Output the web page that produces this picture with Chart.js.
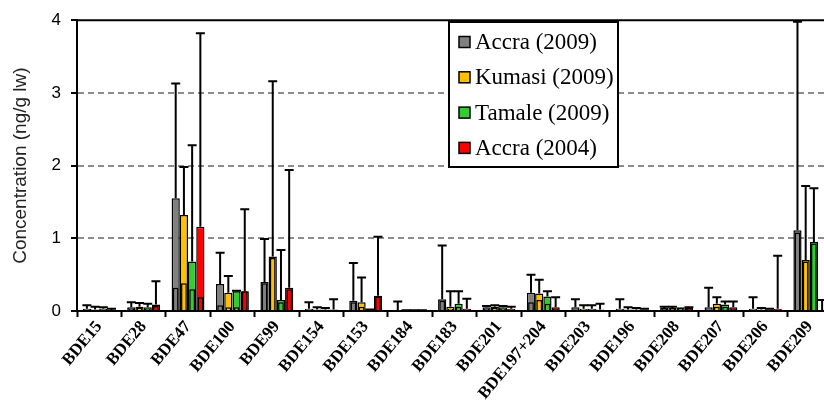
<!DOCTYPE html>
<html>
<head>
<meta charset="utf-8">
<script src="https://cdn.jsdelivr.net/npm/chart.js@4.4.1/dist/chart.umd.min.js"></script>
<style>
html, body { margin: 0; padding: 0; background: #fff; overflow: hidden; }
#wrap { width: 840px; height: 400px; }
</style>
</head>
<body>
<div id="wrap"><canvas id="chart" width="840" height="400"></canvas></div>
<script>
// congeners on the x axis
const congeners = ['BDE15', 'BDE28', 'BDE47', 'BDE100', 'BDE99', 'BDE154', 'BDE153', 'BDE184', 'BDE183',
  'BDE201', 'BDE197+204', 'BDE203', 'BDE196', 'BDE208', 'BDE207', 'BDE206', 'BDE209'];
const cities = ['Accra (2009)', 'Kumasi (2009)', 'Tamale (2009)', 'Accra (2004)'];
const colors = ['#808080', '#FFC000', '#33CC33', '#FF0000'];
const yTicks = [0, 1, 2, 3, 4];

// mean (wide bar), median (inner bar), max (top of whisker), ng/g lw
const accra09Mean = [0.03, 0.05, 1.55, 0.37, 0.40, 0.03, 0.14, 0.01, 0.16, 0.05, 0.25, 0.05, 0.03, 0.04, 0.05, 0.03, 1.11];
const accra09Med  = [0.02, 0.03, 0.32, 0.08, 0.38, 0.01, 0.12, 0.00, 0.14, 0.03, 0.12, 0.02, 0.01, 0.03, 0.02, 0.01, 1.08];
const accra09Max  = [0.08, 0.12, 3.13, 0.80, 0.99, 0.12, 0.66, 0.13, 0.90, 0.07, 0.50, 0.16, 0.16, 0.06, 0.32, 0.19, 3.98];

const kumasiMean = [0.02, 0.06, 1.32, 0.25, 0.75, 0.02, 0.12, 0.00, 0.06, 0.06, 0.24, 0.03, 0.02, 0.04, 0.10, 0.02, 0.70];
const kumasiMed  = [0.01, 0.04, 0.38, 0.05, 0.73, 0.01, 0.06, 0.00, 0.03, 0.04, 0.15, 0.02, 0.01, 0.03, 0.06, 0.01, 0.68];
const kumasiMax  = [0.06, 0.11, 1.98, 0.48, 3.16, 0.05, 0.46, 0.01, 0.27, 0.08, 0.43, 0.08, 0.05, 0.06, 0.19, 0.04, 1.72];

const tamaleMean = [0.03, 0.05, 0.68, 0.27, 0.15, 0.02, 0.01, 0.00, 0.10, 0.05, 0.20, 0.03, 0.02, 0.05, 0.09, 0.02, 0.95];
const tamaleMed  = [0.02, 0.03, 0.30, 0.05, 0.12, 0.01, 0.01, 0.00, 0.06, 0.03, 0.10, 0.02, 0.01, 0.04, 0.06, 0.01, 0.93];
const tamaleMax  = [0.05, 0.10, 2.28, 0.28, 0.84, 0.04, 0.02, 0.01, 0.27, 0.07, 0.27, 0.08, 0.04, 0.05, 0.13, 0.03, 1.69];

const accra04Mean = [0.01, 0.09, 1.16, 0.27, 0.32, 0.02, 0.21, 0.00, 0.03, 0.03, 0.05, 0.02, 0.02, 0.04, 0.05, 0.03, 0.01];
const accra04Med  = [0.01, 0.07, 0.19, 0.27, 0.30, 0.01, 0.20, 0.00, 0.02, 0.02, 0.03, 0.01, 0.01, 0.03, 0.03, 0.02, 0.01];
const accra04Max  = [0.03, 0.41, 3.82, 1.40, 1.94, 0.16, 1.02, 0.01, 0.17, 0.06, 0.19, 0.10, 0.03, 0.05, 0.13, 0.76, 0.15];

const means = [accra09Mean, kumasiMean, tamaleMean, accra04Mean];
const medians = [accra09Med, kumasiMed, tamaleMed, accra04Med];
const maxes = [accra09Max, kumasiMax, tamaleMax, accra04Max];

Chart.defaults.font.family = '"Liberation Sans", Arial, sans-serif';
Chart.defaults.color = '#000';

// whiskers from the mean up to the max
const whiskers = {
  id: 'whiskers',
  afterDatasetsDraw(chart) {
    const ctx = chart.ctx, y = chart.scales.y;
    ctx.save();
    ctx.strokeStyle = '#000';
    ctx.lineWidth = 2;
    maxes.forEach((arr, s) => {
      const meta = chart.getDatasetMeta(s);
      meta.data.forEach((bar, i) => {
        if (arr[i] <= means[s][i]) return;
        const y0 = y.getPixelForValue(means[s][i]);
        const y1 = y.getPixelForValue(arr[i]);
        ctx.beginPath();
        ctx.moveTo(bar.x, y0);
        ctx.lineTo(bar.x, y1);
        ctx.moveTo(bar.x - 4.5, y1);
        ctx.lineTo(bar.x + 4.5, y1);
        ctx.stroke();
      });
    });
    ctx.restore();
  }
};

// top frame line and the boxed legend
const frame = {
  id: 'frame',
  afterDraw(chart) {
    const {ctx, chartArea: a} = chart;
    ctx.save();
    ctx.strokeStyle = '#000';
    ctx.lineWidth = 2;
    ctx.beginPath();
    ctx.moveTo(a.left, a.top);
    ctx.lineTo(a.right, a.top);
    ctx.stroke();

    ctx.fillStyle = '#fff';
    ctx.fillRect(449, 22, 169, 145);
    ctx.strokeRect(449, 22, 169, 145);
    ctx.font = '23px "Liberation Serif", "Times New Roman", serif';
    ctx.textBaseline = 'middle';
    cities.forEach((name, s) => {
      const cy = 42 + s * 35.3;
      ctx.fillStyle = colors[s];
      ctx.fillRect(459, cy - 5.5, 11, 11);
      ctx.lineWidth = 1.5;
      ctx.strokeRect(459, cy - 5.5, 11, 11);
      ctx.fillStyle = '#000';
      ctx.fillText(name, 475, cy + 1);
    });
    ctx.restore();
  }
};

// mean and median of one city share a slot (same stack id), the median is narrower
const datasets = [];
cities.forEach((name, s) => {
  datasets.push({
    label: name,
    data: means[s],
    stack: 's' + s,
    backgroundColor: colors[s],
    borderColor: '#000',
    borderWidth: 1.5,
    categoryPercentage: 0.74,
    barPercentage: 1.0,
    order: 2
  });
});
cities.forEach((name, s) => {
  datasets.push({
    label: name + ' median',
    data: medians[s],
    stack: 's' + s,
    backgroundColor: colors[s],
    borderColor: '#000',
    borderWidth: 1.5,
    categoryPercentage: 0.74,
    barPercentage: 0.7,
    order: 1
  });
});

new Chart(document.getElementById('chart'), {
  type: 'bar',
  data: { labels: congeners, datasets: datasets },
  options: {
    responsive: false,
    animation: false,
    layout: { padding: { top: 16, right: 8, left: 0, bottom: 0 } },
    plugins: { legend: { display: false }, tooltip: { enabled: false } },
    scales: {
      x: {
        stacked: true,
        offset: true,
        grid: { offset: true, drawOnChartArea: false, tickLength: 6, tickColor: '#000', tickWidth: 2 },
        border: { color: '#000', width: 2 },
        ticks: {
          autoSkip: false, maxRotation: 50, minRotation: 50, padding: 0,
          font: { family: '"Liberation Serif", "Times New Roman", serif', size: 17, weight: 'bold' }
        },
        afterFit(scale) { scale.height = 89; }
      },
      y: {
        stacked: false,
        min: 0, max: 4,
        afterBuildTicks(scale) { scale.ticks = yTicks.map(v => ({ value: v })); },
        grid: {
          color: ctx => (ctx.tick && ctx.tick.value > 0 && ctx.tick.value < 4) ? '#8c8c8c' : 'rgba(0,0,0,0)',
          lineWidth: 2, tickLength: 6, tickColor: '#000', tickWidth: 2
        },
        border: { color: '#000', width: 2, dash: [6, 4] },
        ticks: { padding: 10, font: { size: 17 } },
        title: {
          display: true, text: 'Concentration (ng/g lw)', color: '#222',
          font: { size: 19 }, padding: { top: 9, bottom: 0 }
        },
        afterFit(scale) { scale.width = 77; }
      }
    }
  },
  plugins: [whiskers, frame]
});
</script>
</body>
</html>
